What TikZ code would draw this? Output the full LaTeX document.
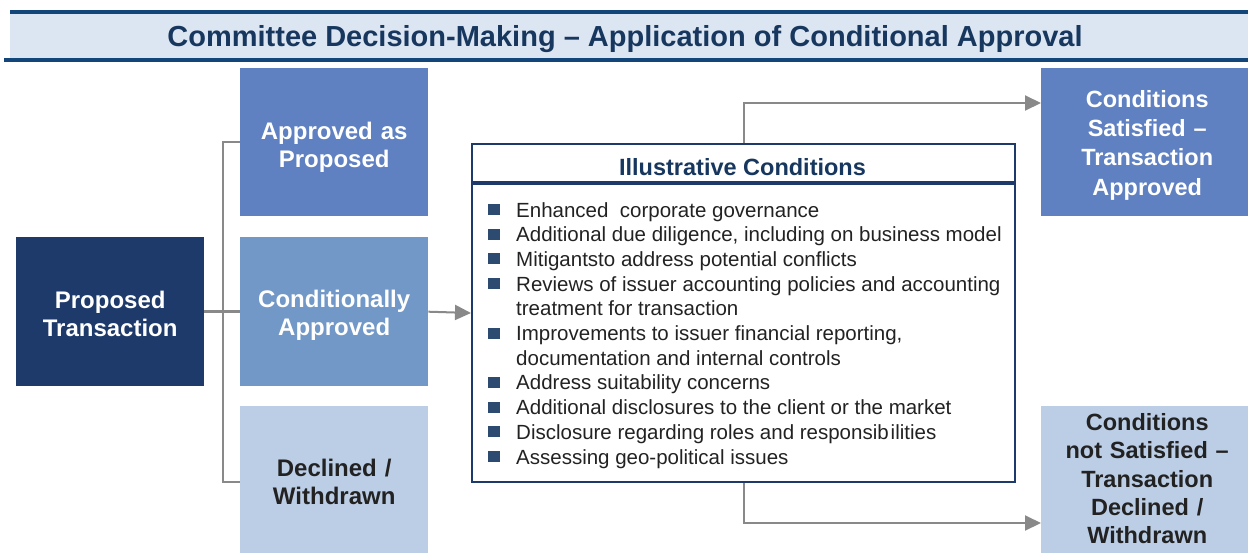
\documentclass[tikz,border=0pt]{standalone}
\usepackage{fontspec}
\setmainfont{Liberation Sans}
\usetikzlibrary{arrows.meta}
\definecolor{navy}{HTML}{17375E}
\definecolor{hline}{HTML}{12457A}
\definecolor{band}{HTML}{DCE6F2}
\definecolor{cA}{HTML}{5F80C1}
\definecolor{cB}{HTML}{7298C7}
\definecolor{cC}{HTML}{BCCEE6}
\definecolor{cPT}{HTML}{1D3A6A}
\definecolor{bul}{HTML}{2D4A71}
\definecolor{conn}{HTML}{898989}
\definecolor{txt}{HTML}{222222}
\begin{document}
\begin{tikzpicture}[x=1pt,y=-1pt,
  box/.style={anchor=north west, inner sep=0pt, minimum width=188pt, minimum height=149pt},
  btext/.style={inner sep=0pt, align=center, text width=210pt,
    font=\bfseries\fontsize{24}{28}\selectfont},
  rtext/.style={inner sep=0pt, align=center, text width=210pt,
    font=\bfseries\fontsize{23.5}{29.3}\selectfont},
  conn/.style={draw=conn, line width=2pt},
  arr/.style={draw=conn, line width=2pt, -{Triangle[length=16pt,width=15pt]}},
  item/.style={anchor=base west, inner sep=0pt, text=txt, font=\fontsize{20.5}{24}\selectfont},
  bsq/.style={fill=bul}
]
\useasboundingbox (0,0) rectangle (1248,552);
% header band
\fill[band] (10,12) rectangle (1248,59);
\draw[hline, line width=4pt] (10,12) -- (1248,12);
\draw[hline, line width=4pt] (4,59.5) -- (1248,59.5);
\node[anchor=base, inner sep=0pt, text=navy, font=\bfseries\fontsize{29}{32}\selectfont] (title) at (625,46)
  {Committee Decision-Making -- Application of Conditional Approval};

% left boxes
\node[box, fill=cPT] (pt) at (16,237) {};
\node[btext, text=white] (ptT) at ([yshift=-2pt]pt.center) {Proposed\\Transaction};
\node[box, fill=cA, minimum height=148pt] (app) at (240,68) {};
\node[btext, text=white] (appT) at ([yshift=-5pt]app.center) {Approved as\\Proposed};
\node[box, fill=cB] (ca) at (240,237) {};
\node[btext, text=white] (caT) at ([yshift=-4pt]ca.center) {Conditionally\\Approved};
\node[box, fill=cC, minimum height=151pt] (dec) at (240,406) {};
\node[btext, text=txt] (decT) at (dec.center) {Declined /\\Withdrawn};

% right boxes
\node[box, fill=cA, minimum width=212pt, minimum height=148pt] (cs) at (1041,68) {};
\node[rtext, text=white] (csT) at ([yshift=-3pt]cs.center) {Conditions\\Satisfied --\\Transaction\\Approved};
\node[box, fill=cC, minimum width=212pt, minimum height=151pt] (cns) at (1041,406) {};
\node[rtext, text=txt, font=\bfseries\fontsize{23.5}{28.2}\selectfont] (cnsT) at ([yshift=3pt]cns.center)
  {Conditions\\not Satisfied --\\Transaction\\Declined /\\Withdrawn};

% illustrative conditions box
\node[draw=cPT, line width=2pt, anchor=north west, inner sep=0pt, minimum width=543pt, minimum height=338pt] (ill) at (471,143) {};
\draw[draw=cPT, line width=3.5pt] (ill.west |- 0,183) -- (ill.east |- 0,183);
\node[anchor=base, inner sep=0pt, text=navy, font=\bfseries\fontsize{23.5}{28}\selectfont] (illt) at (742.5,175) {Illustrative Conditions};

\node[item] (i1) at (516,217) {Enhanced\ \ corporate governance};
\node[item] (i2) at (516,241.7) {Additional due diligence, including on business model};
\node[item] (i3) at (516,266.4) {Mitigantsto address potential conflicts};
\node[item] (i4) at (516,291.1) {Reviews of issuer accounting policies and accounting};
\node[item] (i4b) at (516,315.8) {treatment for transaction};
\node[item] (i5) at (516,340.5) {Improvements to issuer financial reporting,};
\node[item] (i5b) at (516,365.2) {documentation and internal controls};
\node[item] (i6) at (516,389.9) {Address suitability concerns};
\node[item] (i7) at (516,414.6) {Additional disclosures to the client or the market};
\node[item] (i8) at (516,439.3) {Disclosure regarding roles and responsib\kern2pt ilities};
\node[item] (i9) at (516,464) {Assessing geo-political issues};
\foreach \n in {i1,i2,i3,i4,i5,i6,i7,i8,i9}{
  \fill[bsq] ([xshift=-28pt,yshift=13pt]\n.base west) rectangle ([xshift=-16pt,yshift=2pt]\n.base west);
}

% connectors
\draw[draw=conn, line width=3pt] (pt.east) -- (ca.west);
\draw[conn] (app.west) -- ++(-17,0) |- (dec.west);
\draw[arr] (ca.east) -- (ill.west);
\draw[arr] (ill.north) |- ([yshift=-35pt]cs.north west);
\draw[arr] (ill.south) |- ([yshift=-117pt]cns.north west);
\end{tikzpicture}
\end{document}
